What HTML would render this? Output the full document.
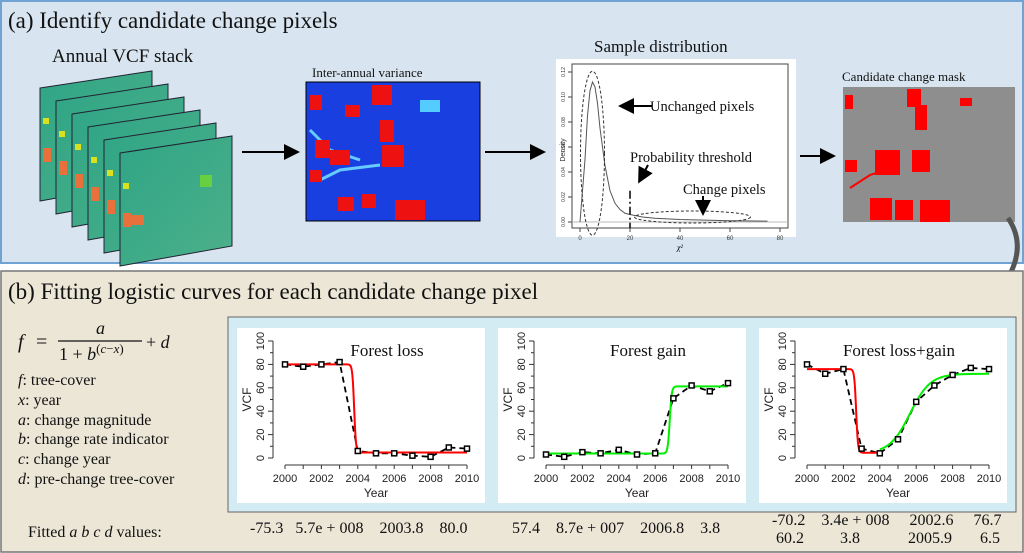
<!DOCTYPE html>
<html><head><meta charset="utf-8"><style>
body{margin:0;background:#fff;}
svg{display:block;}
.serif{font-family:"Liberation Serif",serif;}
.sans{font-family:"Liberation Sans",sans-serif;}
</style></head><body>
<svg id="fig" width="1024" height="553" viewBox="0 0 1024 553" xmlns="http://www.w3.org/2000/svg">
<defs>
<marker id="ah" markerWidth="8" markerHeight="8" refX="6" refY="4" orient="auto"><path d="M0,0 L8,4 L0,8 z" fill="#000"/></marker>
<linearGradient id="vcf" x1="0" y1="0" x2="1" y2="1"><stop offset="0" stop-color="#2fa585"/><stop offset="1" stop-color="#4db08a"/></linearGradient>
</defs>
<rect x="1" y="1" width="1022" height="262" fill="#d8e5f0" stroke="#6fa3d3" stroke-width="2"/>
<text x="8" y="28" class="serif" font-size="23" fill="#111">(a) Identify candidate change pixels</text>
<text x="52" y="62" class="serif" font-size="19" fill="#111">Annual VCF stack</text>
<g id="stack"></g>
<line x1="242" y1="152" x2="296" y2="152" stroke="#000" stroke-width="2" marker-end="url(#ah)"/>
<text x="312" y="77" class="serif" font-size="13" fill="#111">Inter-annual variance</text>
<g>
<rect x="306" y="82" width="174" height="139" fill="#1a3fe0" stroke="#000"/>
<path d="M310,130 L330,150 L360,160 M320,180 L340,170 L380,165" stroke="#6cf" stroke-width="3" fill="none"/>
<rect x="372" y="85" width="20" height="20" fill="#e11"/><rect x="310" y="95" width="12" height="15" fill="#e11"/>
<rect x="345" y="105" width="15" height="12" fill="#e11"/><rect x="380" y="120" width="14" height="22" fill="#e11"/>
<rect x="315" y="140" width="15" height="18" fill="#e11"/><rect x="330" y="150" width="20" height="15" fill="#e11"/>
<rect x="382" y="145" width="22" height="22" fill="#e11"/><rect x="310" y="170" width="12" height="12" fill="#e11"/>
<rect x="338" y="197" width="16" height="14" fill="#e11"/><rect x="362" y="194" width="14" height="14" fill="#e11"/>
<rect x="395" y="200" width="30" height="20" fill="#e11"/><rect x="420" y="100" width="20" height="12" fill="#5cf"/>
<rect x="306" y="82" width="174" height="139" fill="none" stroke="#000"/>
</g>
<line x1="485" y1="152" x2="542" y2="152" stroke="#000" stroke-width="2" marker-end="url(#ah)"/>
<text x="594" y="52" class="serif" font-size="17" fill="#111">Sample distribution</text>
<rect x="556" y="59" width="240" height="178" fill="#fff"/>
<g id="dens"></g>
<line x1="800" y1="156" x2="832" y2="156" stroke="#000" stroke-width="2" marker-end="url(#ah)"/>
<text x="842" y="81" class="serif" font-size="13" fill="#111">Candidate change mask</text>
<g>
<rect x="843" y="87" width="172" height="135" fill="#8e8e8e"/>
<rect x="845" y="95" width="8" height="14" fill="#f00"/><rect x="907" y="89" width="14" height="18" fill="#f00"/>
<rect x="915" y="105" width="12" height="25" fill="#f00"/><rect x="960" y="98" width="12" height="8" fill="#f00"/>
<rect x="875" y="150" width="25" height="25" fill="#f00"/><rect x="912" y="150" width="18" height="22" fill="#f00"/>
<rect x="845" y="160" width="12" height="12" fill="#f00"/><rect x="870" y="198" width="22" height="22" fill="#f00"/>
<rect x="895" y="200" width="18" height="20" fill="#f00"/><rect x="920" y="200" width="30" height="22" fill="#f00"/>
<path d="M850,188 L870,175 L900,165" stroke="#f00" stroke-width="2" fill="none"/>
</g>
<path d="M1008,218 Q1030,250 1000,290 Q990,305 978,312" stroke="#555" stroke-width="5" fill="none"/>
<path d="M970,318 L985,300 L990,318 z" fill="#555"/>
<rect x="1" y="271" width="1022" height="281" fill="#ebe6d6" stroke="#777" stroke-width="1.5"/>
<text x="8" y="299" class="serif" font-size="23" fill="#111">(b) Fitting logistic curves for each candidate change pixel</text>
<g class="serif" fill="#111">
<text x="18" y="348" font-size="20" font-style="italic">f</text>
<text x="36" y="348" font-size="20">=</text>
<text x="96" y="334" font-size="18" font-style="italic">a</text>
<line x1="58" y1="341" x2="142" y2="341" stroke="#111" stroke-width="1.2"/>
<text x="59" y="360" font-size="18">1 + <tspan font-style="italic">b</tspan><tspan font-size="13" dy="-7">(<tspan font-style="italic">c</tspan>−<tspan font-style="italic">x</tspan>)</tspan></text>
<text x="146" y="348" font-size="18">+ <tspan font-style="italic">d</tspan></text>
</g>
<g class="serif" font-size="16" fill="#111">
<text x="18" y="385"><tspan font-style="italic">f</tspan>: tree-cover</text>
<text x="18" y="405"><tspan font-style="italic">x</tspan>: year</text>
<text x="18" y="425"><tspan font-style="italic">a</tspan>: change magnitude</text>
<text x="18" y="444"><tspan font-style="italic">b</tspan>: change rate indicator</text>
<text x="18" y="464"><tspan font-style="italic">c</tspan>: change year</text>
<text x="18" y="484"><tspan font-style="italic">d</tspan>: pre-change tree-cover</text>
</g>
<rect x="228" y="317" width="788" height="195" fill="#d3ebf2" stroke="#666"/>
<g id="charts"></g>
<g class="serif" font-size="16" fill="#111">
<text x="28" y="537">Fitted <tspan font-style="italic">a b c d</tspan> values:</text>
<text x="250" y="533">-75.3&#160;&#160; 5.7e + 008&#160;&#160;&#160; 2003.8&#160;&#160;&#160; 80.0</text>
<text x="512" y="533">57.4&#160;&#160;&#160; 8.7e + 007&#160;&#160;&#160; 2006.8&#160;&#160;&#160; 3.8</text>
<text x="772" y="525">-70.2&#160;&#160;&#160; 3.4e + 008&#160;&#160;&#160;&#160; 2002.6&#160;&#160;&#160;&#160; 76.7</text>
<text x="776" y="543">60.2&#160;&#160;&#160;&#160;&#160;&#160;&#160;&#160; 3.8&#160;&#160;&#160;&#160;&#160;&#160;&#160;&#160;&#160;&#160;&#160; 2005.9&#160;&#160;&#160;&#160;&#160;&#160; 6.5</text>
</g>
</svg>
<script>
const NS="http://www.w3.org/2000/svg";
const years=[2000,2001,2002,2003,2004,2005,2006,2007,2008,2009,2010];
const lossObs=[80,78,80,82,6,4,4,2,1,9,8];
const gainObs=[3,1,5,4,7,3,4,51,62,57,64];
const bothObs=[80,72,76,8,4,16,48,62,71,77,76];
const lossFit=[-75.3,5.7e8,2003.8,80.0];
const gainFit=[57.4,8.7e7,2006.8,3.8];
const bothFitLoss=[-71.5,3.4e8,2002.7,76.0];
const bothFitGain=[68,6,2005.66,4];
const yTicks=[0,20,40,60,80,100];
const xTicks=[2000,2002,2004,2006,2008,2010];
const densX=[0,2,3,4,5,6,7,8,10,12,14,16,18,20,25,30,40,50,60,70,75];
const densY=[0.0,0.05,0.085,0.105,0.112,0.108,0.095,0.075,0.045,0.025,0.015,0.010,0.007,0.006,0.004,0.003,0.002,0.0015,0.001,0.0008,0.0007];
const densXTicks=[0,20,40,60,80];
const densYTicks=[0,0.02,0.04,0.06,0.08,0.10,0.12];

function el(tag,attrs,parent){const e=document.createElementNS(NS,tag);for(const k in attrs)e.setAttribute(k,attrs[k]);parent.appendChild(e);return e;}
function logi(p,x){return p[0]/(1+Math.pow(p[1],p[2]-x))+p[3];}

const st=document.getElementById('stack');
for(let i=0;i<6;i++){
  const x0=40+16*i, y0=88+13*i;
  const p=el('polygon',{points:`${x0},${y0} ${x0+112},${y0-17} ${x0+112},${y0+93} ${x0},${y0+113}`,fill:'url(#vcf)',stroke:'#223',"stroke-width":1},st);
  
  
  el('rect',{x:x0+3,y:y0+60,width:8,height:14,fill:'#e8703a'},st);
  el('rect',{x:x0+3,y:y0+30,width:6,height:6,fill:'#d8e020'},st);
}
el('rect',{x:200,y:175,width:12,height:12,fill:'#66d040'},st);
el('rect',{x:130,y:215,width:14,height:10,fill:'#e8703a'},st);

(function(){
  const g=document.getElementById('dens');
  const L=572,R=788,T=64,B=228;
  const sx=v=>L+8+(v/80)*(R-L-16), sy=v=>B-6-(v/0.12)*(B-T-14);
  el('rect',{x:L,y:T,width:R-L,height:B-T,fill:'none',stroke:'#444'},g);
  densXTicks.forEach(t=>{el('line',{x1:sx(t),y1:B,x2:sx(t),y2:B+4,stroke:'#444'},g);
    const tx=el('text',{x:sx(t),y:B+12,"font-size":6,"text-anchor":"middle",fill:'#333',class:'sans'},g);tx.textContent=t;});
  densYTicks.forEach(t=>{el('line',{x1:L,y1:sy(t),x2:L-4,y2:sy(t),stroke:'#444'},g);
    const tx=el('text',{x:L-7,y:sy(t),"font-size":5,"text-anchor":"middle",fill:'#333',transform:`rotate(-90 ${L-7} ${sy(t)})`,class:'sans'},g);tx.textContent=t.toFixed(2);});
  const yl=el('text',{x:565,y:150,"font-size":7,"text-anchor":"middle",transform:'rotate(-90 565 150)',class:'sans',fill:'#333'},g);yl.textContent='Density';
  const xl=el('text',{x:sx(40),y:B+22,"font-size":8,"text-anchor":"middle",class:'serif','font-style':'italic'},g);xl.textContent='χ²';
  el('line',{x1:L,y1:sy(0),x2:R,y2:sy(0),stroke:'#bbb'},g);
  const c=el('path',{d:densX.map((x,i)=>(i?'L':'M')+sx(x)+','+sy(densY[i])).join(' '),fill:'none',stroke:'#555',"stroke-width":1},g);
  
  
  el('ellipse',{cx:sx(5),cy:sy(0.055),rx:12,ry:82,fill:'none',stroke:'#333',"stroke-dasharray":'3,2'},g);
  el('ellipse',{cx:sx(45),cy:sy(0.004),rx:58,ry:6,fill:'none',stroke:'#333',"stroke-dasharray":'3,2'},g);
  el('line',{x1:sx(20),y1:sy(0.025),x2:sx(20),y2:B,stroke:'#000',"stroke-width":1.5,"stroke-dasharray":'8,3,2,3'},g);
  el('line',{x1:652,y1:106,x2:622,y2:106,stroke:'#000',"stroke-width":2,"marker-end":'url(#ah)'},g);
  el('line',{x1:648,y1:165,x2:640,y2:180,stroke:'#000',"stroke-width":2,"marker-end":'url(#ah)'},g);
  el('line',{x1:703,y1:196,x2:703,y2:212,stroke:'#000',"stroke-width":2,"marker-end":'url(#ah)'},g);
  [['Unchanged pixels',650,111],['Probability threshold',630,162],['Change pixels',683,194]].forEach(a=>{
    const t=el('text',{x:a[1],y:a[2],"font-size":14.5,class:'serif',fill:'#111'},g);t.textContent=a[0];});
})();

const chartDefs=[
  {x:237,title:'Forest loss',obs:lossObs,fits:[[lossFit,'#f00',2000,2010]],name:'forest-loss'},
  {x:498,title:'Forest gain',obs:gainObs,fits:[[gainFit,'#0e0',2000,2010]],name:'forest-gain'},
  {x:759,title:'Forest loss+gain',obs:bothObs,fits:[[bothFitLoss,'#f00',2000,2004],[bothFitGain,'#0e0',2004,2010]],name:'forest-loss-gain'}
];
const cg=document.getElementById('charts');
chartDefs.forEach(cd=>{
  const g=el('g',{},cg);
  
  
  el('rect',{x:cd.x,y:328,width:248,height:175,fill:'#fff'},g);
  const ax=cd.x+36, x0=cd.x+48, x1=cd.x+230, y0=458, y1=341;
  const sx=v=>x0+(v-2000)/10*(x1-x0), sy=v=>y0-v/100*(y0-y1);
  el('line',{x1:ax,y1:sy(0),x2:ax,y2:sy(100),stroke:'#333'},g);
  yTicks.forEach(t=>{el('line',{x1:ax,y1:sy(t),x2:ax-5,y2:sy(t),stroke:'#333'},g);
    const tx=el('text',{x:ax-9,y:sy(t),"font-size":11,"text-anchor":"middle",transform:`rotate(-90 ${ax-9} ${sy(t)})`,class:'sans',fill:'#222'},g);tx.textContent=t;});
  for(let t=10;t<100;t+=20)el('line',{x1:ax,y1:sy(t),x2:ax-3,y2:sy(t),stroke:'#333'},g);
  const xa=y0+7;
  el('line',{x1:sx(2000),y1:xa,x2:sx(2010),y2:xa,stroke:'#333'},g);
  years.forEach(t=>el('line',{x1:sx(t),y1:xa,x2:sx(t),y2:xa+4,stroke:'#333'},g));
  xTicks.forEach(t=>{const tx=el('text',{x:sx(t),y:xa+17,"font-size":11,"text-anchor":"middle",class:'sans',fill:'#222'},g);tx.textContent=t;});
  const yl=el('text',{x:cd.x+14,y:sy(50),"font-size":12,"text-anchor":"middle",transform:`rotate(-90 ${cd.x+14} ${sy(50)})`,class:'sans',fill:'#222'},g);yl.textContent='VCF';
  const xl=el('text',{x:(x0+x1)/2,y:497,"font-size":12,"text-anchor":"middle",class:'sans',fill:'#222'},g);xl.textContent='Year';
  const tt=el('text',{x:cd.x+(cd.title.length>12?140:150),y:356,"font-size":17,"text-anchor":"middle",class:'serif',fill:'#111'},g);tt.textContent=cd.title;
  const dp=el('path',{d:years.map((y,i)=>(i?'L':'M')+sx(y)+','+sy(cd.obs[i])).join(' '),fill:'none',stroke:'#000',"stroke-width":1.8,"stroke-dasharray":'6,4'},g);
  
  
  cd.fits.forEach(f=>{
    let d='';for(let i=0;i<=300;i++){const x=f[2]+(f[3]-f[2])*i/300;d+=(i?'L':'M')+sx(x).toFixed(2)+','+sy(logi(f[0],x)).toFixed(2);}
    const fp=el('path',{d:d,fill:'none',stroke:f[1],"stroke-width":2},g);
    
    
  });
  years.forEach((y,i)=>{const m=el('rect',{x:sx(y)-2.5,y:sy(cd.obs[i])-2.5,width:5,height:5,fill:'#fff',stroke:'#000',"stroke-width":1.5},g);
    
    });
});
</script>
</body></html>
